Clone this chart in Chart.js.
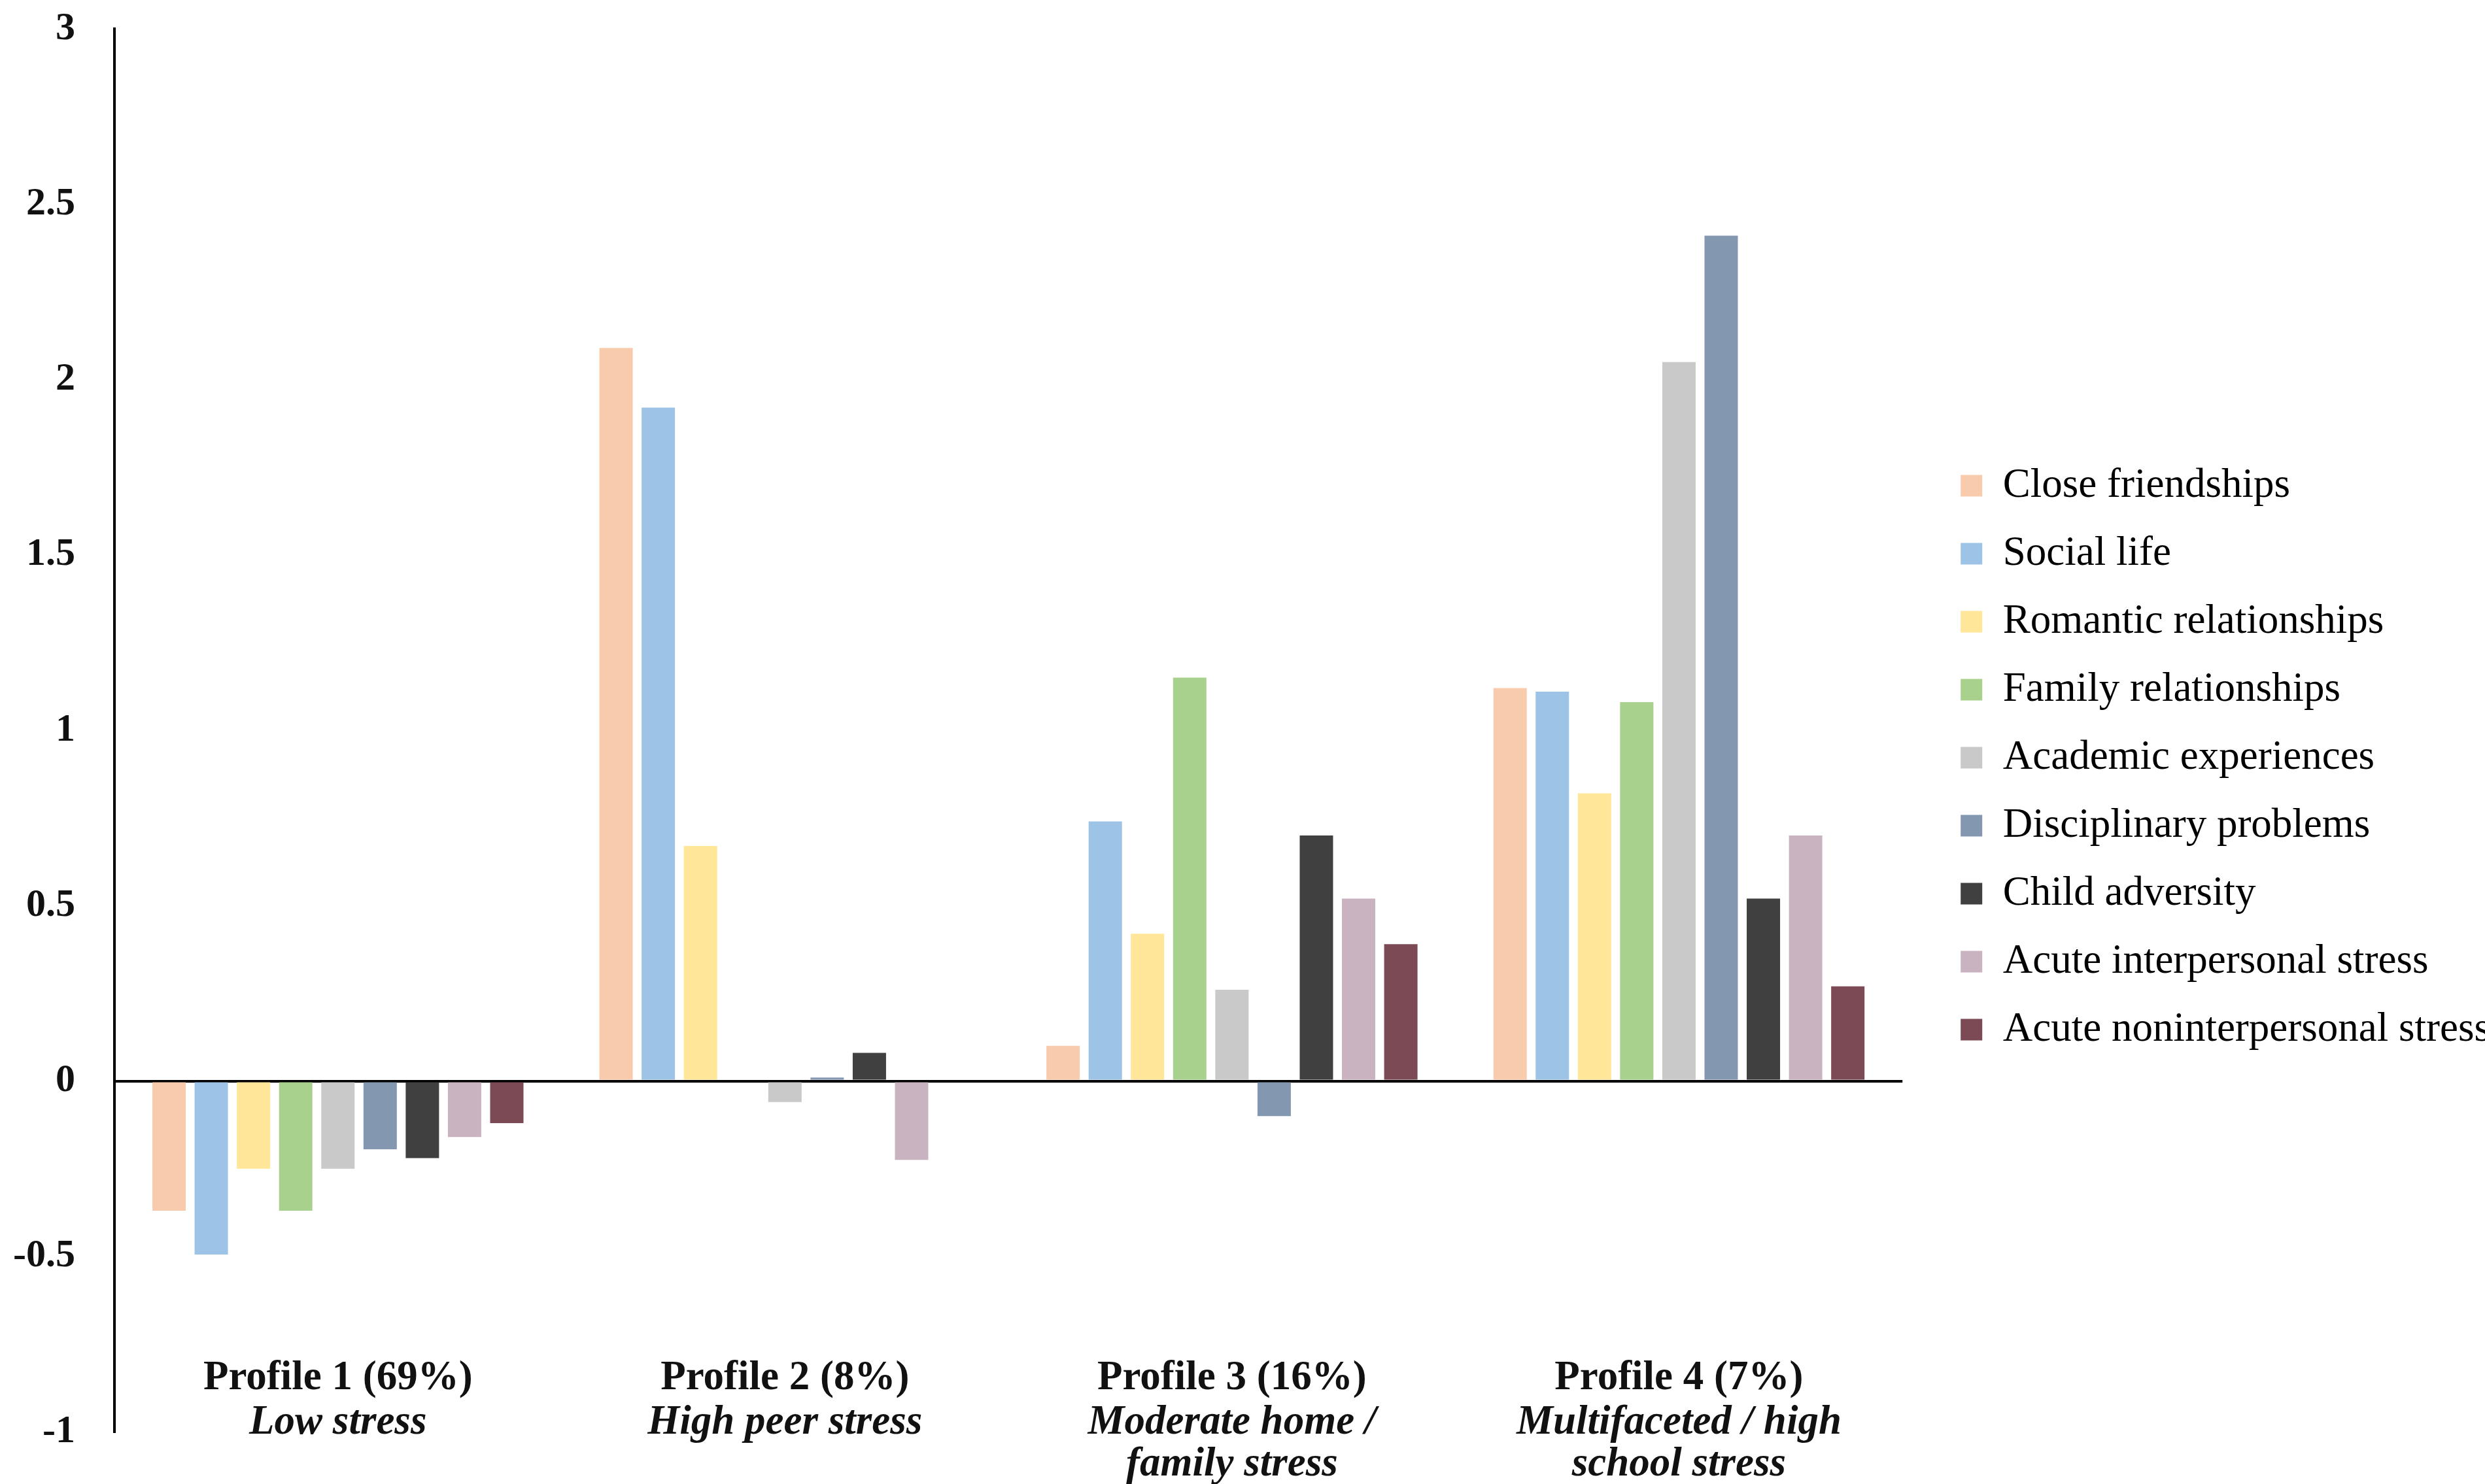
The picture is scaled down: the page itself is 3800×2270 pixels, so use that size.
<!DOCTYPE html>
<html>
<head>
<meta charset="utf-8">
<script src="https://cdn.jsdelivr.net/npm/chart.js@4.4.1/dist/chart.umd.min.js"></script>
<style>
  html, body { margin: 0; padding: 0; background: #fff; }
</style>
</head>
<body>
<canvas id="chart" width="3800" height="2270"></canvas>
<script>
// categories (profiles) and their subtitles
const profiles = ['Profile 1 (69%)', 'Profile 2 (8%)', 'Profile 3 (16%)', 'Profile 4 (7%)'];
const profileNames = [
    ['Low stress'],
    ['High peer stress'],
    ['Moderate home /', 'family stress'],
    ['Multifaceted / high', 'school stress']
];
const yTicks = [-1, -0.5, 0, 0.5, 1, 1.5, 2, 2.5, 3];

// one series per stress domain, values per profile
const closeFriendships = [-0.37, 2.09, 0.10, 1.12];
const socialLife = [-0.495, 1.92, 0.74, 1.11];
const romanticRelationships = [-0.25, 0.67, 0.42, 0.82];
const familyRelationships = [-0.37, 0, 1.15, 1.08];
const academicExperiences = [-0.25, -0.06, 0.26, 2.05];
const disciplinaryProblems = [-0.195, 0.01, -0.10, 2.41];
const childAdversity = [-0.22, 0.08, 0.70, 0.52];
const acuteInterpersonal = [-0.16, -0.225, 0.52, 0.70];
const acuteNoninterpersonal = [-0.12, 0, 0.39, 0.27];

const series = [
    ['Close friendships', closeFriendships, '#F8CBAD'],
    ['Social life', socialLife, '#9DC3E6'],
    ['Romantic relationships', romanticRelationships, '#FFE699'],
    ['Family relationships', familyRelationships, '#A9D18E'],
    ['Academic experiences', academicExperiences, '#C9C9C9'],
    ['Disciplinary problems', disciplinaryProblems, '#8497B0'],
    ['Child adversity', childAdversity, '#404040'],
    ['Acute interpersonal stress', acuteInterpersonal, '#C9B3C1'],
    ['Acute noninterpersonal stress', acuteNoninterpersonal, '#7B4A55'],
];

const serif = '"Liberation Serif", "Times New Roman", serif';

// category labels sit inside the bottom of the plot, like the original
const categoryLabels = {
    id: 'categoryLabels',
    afterDraw(chart) {
        const { ctx, scales: { x, y } } = chart;
        const base = y.getPixelForValue(-1);
        ctx.save();
        ctx.fillStyle = '#111';
        ctx.textAlign = 'center';
        ctx.textBaseline = 'middle';
        profiles.forEach((title, i) => {
            const cx = x.getPixelForTick(i);
            ctx.font = `bold 63px ${serif}`;
            ctx.fillText(title, cx, base - 81);
            ctx.font = `italic bold 63px ${serif}`;
            profileNames[i].forEach((line, j) => {
                ctx.fillText(line, cx, base - 13 + j * 64);
            });
        });
        ctx.restore();
    }
};

new Chart(document.getElementById('chart'), {
    type: 'bar',
    data: {
        labels: profiles,
        datasets: series.map(([label, data, color]) => ({
            label,
            data,
            backgroundColor: color,
            borderWidth: 0,
            categoryPercentage: 0.85,
            barPercentage: 0.79,
        }))
    },
    options: {
        responsive: false,
        devicePixelRatio: 1,
        animation: false,
        layout: {
            padding: { top: 44, bottom: 80, left: 20, right: -18 }
        },
        plugins: {
            tooltip: { enabled: false },
            legend: {
                position: 'right',
                align: 'center',
                title: {
                    display: true,
                    text: ' ',
                    font: { size: 10 },
                    padding: 36,
                },
                labels: {
                    color: '#000',
                    font: { family: serif, size: 63 },
                    boxWidth: 33,
                    boxHeight: 33,
                    padding: 41,
                }
            }
        },
        scales: {
            x: {
                display: false,
            },
            y: {
                min: -1,
                max: 3,
                afterBuildTicks: axis => {
                    axis.ticks = yTicks.map(v => ({ value: v }));
                },
                border: { display: true, color: '#000', width: 4 },
                grid: {
                    drawTicks: true,
                    tickLength: 60,
                    tickColor: 'rgba(0,0,0,0)',
                    color: c => (c.tick && c.tick.value === 0 ? '#000' : 'rgba(0,0,0,0)'),
                    lineWidth: 4,
                },
                ticks: {
                    color: '#111',
                    padding: 0,
                    font: { family: serif, size: 60, weight: 'bold' },
                    callback: v => String(v),
                }
            },
            // empty spacer between plot and legend
            gap: {
                position: 'right',
                display: false,
                afterFit: s => { s.width = 48; },
            }
        }
    },
    plugins: [categoryLabels]
});
</script>
</body>
</html>
